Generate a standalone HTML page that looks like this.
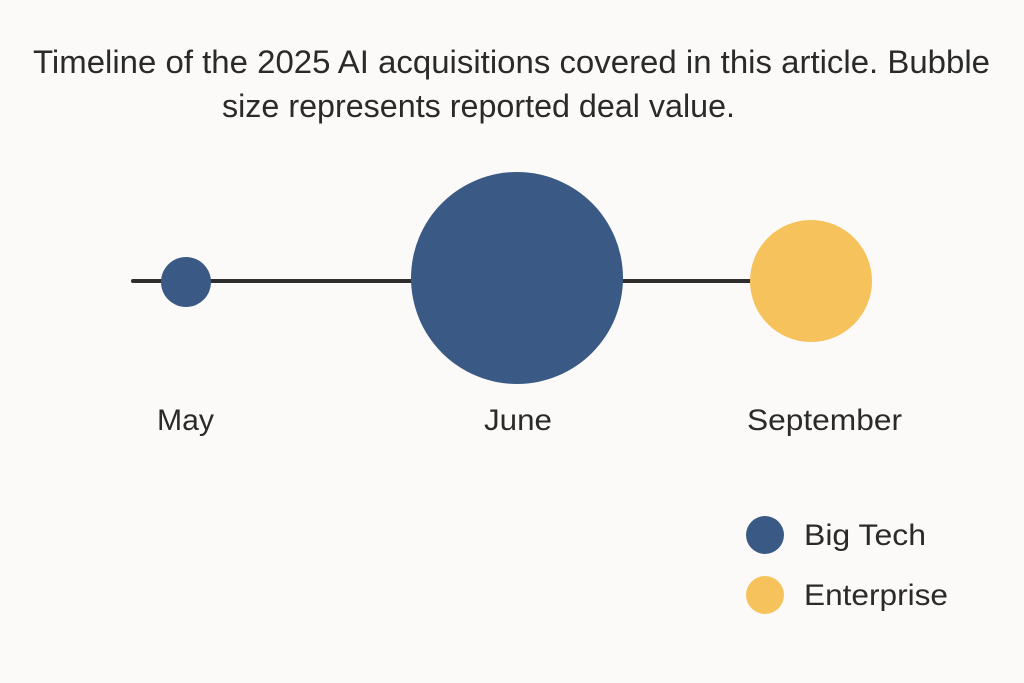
<!DOCTYPE html>
<html><head><style>
html,body{margin:0;padding:0;background:#fbfaf8;}
svg{display:block;}
text{font-family:"Liberation Sans",sans-serif;fill:#2a2a2a;}
</style></head><body>
<svg width="1024" height="683" viewBox="0 0 1024 683">
<rect width="1024" height="683" fill="#fbfaf8"/>
<text x="33" y="73" font-size="32" textLength="957" lengthAdjust="spacingAndGlyphs">Timeline of the 2025 AI acquisitions covered in this article. Bubble</text>
<text x="222" y="117" font-size="32" textLength="513" lengthAdjust="spacingAndGlyphs">size represents reported deal value.</text>
<line x1="133" y1="281" x2="760" y2="281" stroke="#2e2e2e" stroke-width="4" stroke-linecap="round"/>
<circle cx="186" cy="282" r="25" fill="#3a5a85"/>
<circle cx="517" cy="278" r="106" fill="#3a5a85"/>
<circle cx="811" cy="281" r="61" fill="#f6c25c"/>
<text x="157" y="430" font-size="30" textLength="57" lengthAdjust="spacingAndGlyphs">May</text>
<text x="484" y="430" font-size="30" textLength="68" lengthAdjust="spacingAndGlyphs">June</text>
<text x="747" y="430" font-size="30" textLength="155" lengthAdjust="spacingAndGlyphs">September</text>
<circle cx="765" cy="535" r="19" fill="#3a5a85"/>
<circle cx="765" cy="595" r="19" fill="#f6c25c"/>
<text x="804" y="545" font-size="30" textLength="122" lengthAdjust="spacingAndGlyphs">Big Tech</text>
<text x="804" y="605" font-size="30" textLength="144" lengthAdjust="spacingAndGlyphs">Enterprise</text>
</svg>
</body></html>
